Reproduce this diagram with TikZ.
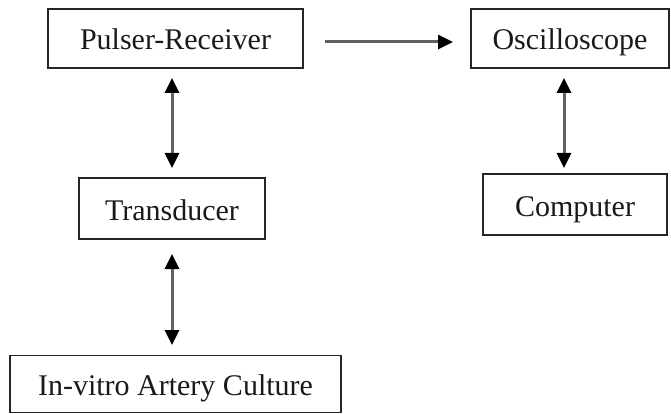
\documentclass[tikz,border=0pt]{standalone}
\usepackage{fontspec}
\setmainfont{Liberation Serif}
\usetikzlibrary{arrows.meta}
\begin{document}
\begin{tikzpicture}[x=1pt,y=-1pt,
  box/.style={draw=black!85, line width=1.6pt, inner sep=0pt, text height=23pt, text depth=0pt, font=\fontsize{30}{32}\selectfont, text=black!90},
  tip/.tip={Triangle[width=14pt,length=15pt,color=black,fill=black]},
  arr/.style={draw=black!62, line width=3pt, -tip},
  darr/.style={draw=black!62, line width=3pt, tip-tip}]
\useasboundingbox (0,0) rectangle (671,414);
\node[box, minimum width=255pt, minimum height=59pt] (pr) at (175.5,38.5) {Pulser-Receiver};
\node[box, minimum width=198pt, minimum height=59pt] (osc) at (570,38.5) {Oscilloscope};
\node[box, minimum width=186pt, minimum height=61pt] (tr) at (172,208.5) {Transducer};
\node[box, minimum width=184pt, minimum height=61pt] (comp) at (575,204.5) {Computer};
\node[box, minimum width=331pt, minimum height=57pt] (iv) at (175.5,384) {In-vitro Artery Culture};
\coordinate (a1) at (172,78);
\coordinate (a2) at (172,168);
\coordinate (b1) at (172,254);
\coordinate (b2) at (172,345);
\coordinate (c1) at (564,78);
\coordinate (c2) at (564,168);
\coordinate (h1) at (325,42);
\coordinate (h2) at (453,42);
\draw[arr] (h1) -- (h2);
\draw[darr] (a1) -- (a2);
\draw[darr] (b1) -- (b2);
\draw[darr] (c1) -- (c2);
\end{tikzpicture}
\end{document}
